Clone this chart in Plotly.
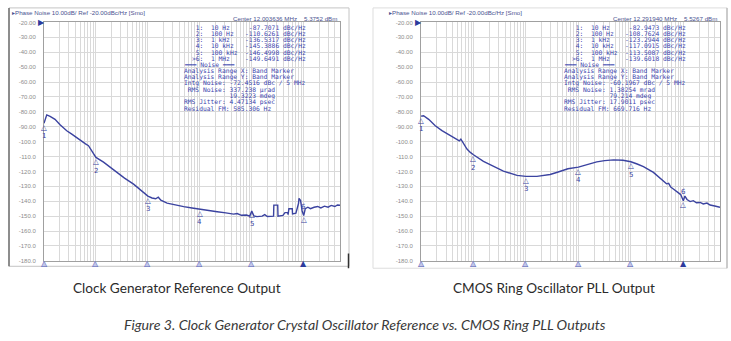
import math
import plotly.graph_objects as go

W, H = 731, 341

# ---------------- measured phase-noise traces (offset Hz, dBc/Hz) ----------------
ref_freq_hz = [10, 11.3, 13.1, 16.3, 20.4, 27.4, 34.3, 45.9, 57.4, 63, 71.8, 89.5, 100,
               140, 178, 253, 355, 530, 713, 871, 1000, 1202, 1413, 1585, 1778, 2339,
               3162, 4898, 7079, 10000, 14125, 21580, 31623, 44668, 52480, 63096, 79433,
               91201, 100000, 109648, 125893, 158489, 177828, 199526, 263027, 266073,
               316228, 319890, 398107, 436516, 489779, 501187, 518800, 602560, 609537,
               707946, 794328, 812831, 870964, 933254, 1000000, 1071519, 1202264,
               1348963, 1584893, 1862087, 2137962, 2511886, 2951209, 3388442, 3981072,
               4466836, 5000000]
ref_dbc = [-87.7, -82.0, -83.0, -85.0, -88.7, -92.7, -94.9, -98.2, -100.9, -101.5, -102.7,
           -107.5, -110.6, -113.7, -116.5, -120.4, -124.5, -128.5, -132.0, -134.5, -136.5,
           -137.8, -138.3, -137.3, -139.3, -141.2, -142.3, -143.6, -144.5, -145.4, -146.0,
           -147.0, -147.8, -148.6, -148.2, -149.4, -149.2, -150.0, -146.5, -149.8, -150.3,
           -150.0, -149.0, -150.2, -150.0, -142.6, -142.6, -150.0, -149.5, -147.6, -147.6,
           -149.0, -145.0, -145.0, -148.5, -148.0, -141.5, -138.0, -139.5, -146.5, -149.6,
           -145.0, -144.0, -145.0, -144.0, -143.5, -144.5, -143.3, -144.0, -142.8, -143.5,
           -142.5, -142.7]

pll_freq_hz = [10, 11.2, 14.0, 18.7, 25.1, 36.1, 49.9, 53.7, 57.5, 63.1, 75.2, 87.1, 100,
               155, 240, 372, 676, 1000, 1622, 2884, 3981, 6310, 10000, 15849, 22387,
               31623, 46774, 70795, 100000, 131826, 173780, 269153, 354813, 416869,
               478630, 524807, 575440, 645654, 794328, 891251, 1000000, 1071519, 1174898,
               1348963, 1548817, 1778279, 2089296, 2398833, 2818383, 3235937, 3981072,
               5000000]
pll_dbc = [-82.9, -82.6, -85.0, -89.3, -92.6, -95.9, -99.1, -99.5, -98.3, -100.8, -105.0,
           -107.2, -108.8, -113.2, -116.5, -119.8, -122.6, -123.3, -123.3, -122.0, -120.5,
           -118.2, -117.1, -115.0, -113.6, -112.7, -112.2, -112.5, -113.5, -115.0, -116.8,
           -120.6, -124.0, -126.5, -128.3, -128.0, -130.5, -131.8, -134.5, -135.5, -139.6,
           -136.5, -138.8, -140.2, -139.6, -141.0, -140.8, -141.8, -141.2, -142.5, -143.2,
           -144.0]

# ---------------- marker table ----------------
marker_freq_hz = [10, 100, 1e3, 1e4, 1e5, 1e6]
marker_names = ["1:", "2:", "3:", "4:", "5:", ">6:"]
marker_numbers = ["1", "2", "3", "4", "5", "6"]
marker_freq_text = ["10 Hz", "100 Hz", "1 kHz", "10 kHz", "100 kHz", "1 MHz"]
ref_marker_dbc = [-87.7071, -110.6261, -136.5317, -145.3886, -146.4998, -149.6491]
pll_marker_dbc = [-82.9473, -108.7624, -123.2944, -117.0915, -113.5087, -139.6018]

# carrier / integrated-noise readouts
ref_carrier = ["12.003636 MHz", "5.3752 dBm"]
pll_carrier = ["12.291940 MHz", "5.5267 dBm"]
ref_noise = ["-72.4516 dBc / 5 MHz", "337.238 µrad", "19.3223 mdeg", "4.47134 psec", "585.306 Hz"]
pll_noise = ["-60.1967 dBc / 5 MHz", "1.38254 mrad", "79.214 mdeg", "17.9011 psec", "669.716 Hz"]

y_tick_vals = list(range(-20, -190, -10))
y_tick_text = [f"{v:.2f}" if v > -100 else f"{v:.1f}" for v in y_tick_vals]

header_text = "Phase Noise 10.00dB/ Ref -20.00dBc/Hz [Smo]"
panel_titles = ["Clock Generator Reference Output", "CMOS Ring Oscillator PLL Output"]
figure_caption = "Figure 3. Clock Generator Crystal Oscillator Reference vs. CMOS Ring PLL Outputs"

# ---------------- layout geometry (pixels) ----------------
TRACE = "#3b43a0"
TXT = "#3a44ad"
GRID = "#d9d9d9"
PLOT_TOP, PLOT_BOT = 19.8, 262.5
PANELS = [
    dict(left=44, right=340, ax="x", ay="y", freq=ref_freq_hz, dbc=ref_dbc,
         mk=ref_marker_dbc, carrier=ref_carrier, noise=ref_noise, title_x=177),
    dict(left=421, right=720, ax="x2", ay="y2", freq=pll_freq_hz, dbc=pll_dbc,
         mk=pll_marker_dbc, carrier=pll_carrier, noise=pll_noise, title_x=554),
]


def px(x):
    return x / W


def py(y):
    return 1 - y / H


def nb(s):
    return s.replace(" ", "\u00a0")


fig = go.Figure()
annotations = []
shapes = []

for i, p in enumerate(PANELS):
    fig.add_trace(go.Scatter(
        x=p["freq"], y=p["dbc"], mode="lines", xaxis=p["ax"], yaxis=p["ay"],
        line=dict(color=TRACE, width=1.4), hoverinfo="skip", showlegend=False,
    ))
    xref, yref = p["ax"], p["ay"]

    # delta markers on the trace, with their numbers
    for k, (f, v) in enumerate(zip(marker_freq_hz, p["mk"])):
        lx = math.log10(f)
        annotations.append(dict(x=lx, y=v, xref=xref, yref=yref, text="△", showarrow=False,
                                borderpad=0,
                                font=dict(size=7.5, color=TRACE, family="DejaVu Sans"),
                                yshift=-4))
        annotations.append(dict(x=lx, y=v, xref=xref, yref=yref, text=marker_numbers[k],
                                showarrow=False, borderpad=0,
                                font=dict(size=7, color=TRACE, family="DejaVu Sans"),
                                yshift=(9 if k == 5 else -13)))
        # marker flags along the bottom edge
        annotations.append(dict(x=lx, y=-180, xref=xref, yref=yref, text="▲", showarrow=False,
                                font=dict(size=8, color=("#2c3a9c" if k == 5 else "#c3c7ea"),
                                          family="DejaVu Sans"), yshift=-3))
        if k != 5:
            annotations.append(dict(x=lx, y=-180, xref=xref, yref=yref, text="△",
                                    showarrow=False,
                                    font=dict(size=8, color="#5a62b4", family="DejaVu Sans"),
                                    yshift=-3))

    # reference level pointer
    annotations.append(dict(x=px(p["left"] - 3), y=py(PLOT_TOP), xref="paper", yref="paper",
                            text="▶", showarrow=False, xanchor="center", yanchor="middle",
                            font=dict(size=8, color="#2c3a9c", family="DejaVu Sans")))
    # header line
    annotations.append(dict(x=px(p["left"] - 34), y=py(9.3), xref="paper", yref="paper",
                            text="▸" + header_text, showarrow=False, xanchor="left",
                            yanchor="middle",
                            font=dict(size=6.2, color="#4a5290", family="Liberation Sans")))

    R = p["right"]
    mono = dict(size=6.3, color=TXT, family="DejaVu Sans Mono")
    row_y = [24.5 + 6.37 * j for j in range(14)]
    # carrier line
    annotations.append(dict(x=px(R - 108), y=py(16), xref="paper", yref="paper",
                            text=nb("Center " + p["carrier"][0]), showarrow=False,
                            xanchor="left", yanchor="middle", borderpad=0,
                            font=dict(size=6.2, color="#4a5290", family="Liberation Sans")))
    annotations.append(dict(x=px(R - 2), y=py(16), xref="paper", yref="paper",
                            text=nb(p["carrier"][1]), showarrow=False, borderpad=0,
                            xanchor="right", yanchor="middle",
                            font=dict(size=6.2, color="#4a5290", family="Liberation Sans")))
    lines = []
    for name, ft, v in zip(marker_names, marker_freq_text, p["mk"]):
        lines.append((R - 149, f"{name:>3}  {ft:<7}{v:>11.4f} dBc/Hz"))
    n = p["noise"]
    lines += [
        (R - 157, "━━━ Noise ━━━"),
        (R - 157, "Analysis Range X: Band Marker"),
        (R - 157, "Analysis Range Y: Band Marker"),
        (R - 157, "Intg Noise: " + n[0]),
        (R - 157, " RMS Noise: " + n[1]),
        (R - 157, "            " + n[2]),
        (R - 157, "RMS Jitter: " + n[3]),
        (R - 157, "Residual FM: " + n[4]),
    ]
    for (x0, s), yy in zip(lines, row_y):
        annotations.append(dict(x=px(x0), y=py(yy), xref="paper", yref="paper", text=nb(s),
                                showarrow=False, xanchor="left", yanchor="middle",
                                borderpad=0, font=mono))

    # panel captions
    annotations.append(dict(x=px(p["title_x"]), y=py(290),
                            xref="paper", yref="paper", text=panel_titles[i], showarrow=False,
                            xanchor="center", yanchor="middle",
                            font=dict(size=13.6, color="#2b2b2b", family="Lato")))

annotations.append(dict(x=px(365), y=py(327), xref="paper", yref="paper",
                        text=f"<i>{figure_caption}</i>", showarrow=False, xanchor="center",
                        yanchor="middle", font=dict(size=14.2, color="#3a3a3a", family="Lato")))

# instrument screen frames
shapes += [
    dict(type="rect", xref="paper", yref="paper", x0=px(9), x1=px(349), y0=py(268), y1=py(5),
         line=dict(color="#c4c4c4", width=1)),
    dict(type="line", xref="paper", yref="paper", x0=px(9), x1=px(9), y0=py(268), y1=py(5),
         line=dict(color="#707070", width=1.5)),
    dict(type="line", xref="paper", yref="paper", x0=px(348.5), x1=px(348.5), y0=py(270),
         y1=py(255), line=dict(color="#303030", width=1.5)),
    dict(type="rect", xref="paper", yref="paper", x0=px(373), x1=px(727), y0=py(270), y1=py(5),
         line=dict(color="#dddddd", width=1)),
    dict(type="line", xref="paper", yref="paper", x0=px(727), x1=px(727), y0=py(270), y1=py(5),
         line=dict(color="#a8a8a8", width=1)),
]

xa = dict(type="log", range=[1, math.log10(5e6)], dtick="D1", showticklabels=False,
          showgrid=True, gridcolor=GRID, gridwidth=1, showline=True, mirror=True,
          linecolor="#a0a0a0", linewidth=1, zeroline=False, ticks="")
ya = dict(range=[-180, -20], tickvals=y_tick_vals, ticktext=y_tick_text, showgrid=True,
          gridcolor=GRID, gridwidth=1, showline=True, mirror=True, linecolor="#a0a0a0",
          linewidth=1, zeroline=False, ticks="", ticklabelstandoff=6,
          tickfont=dict(size=6, color="#8c8c8c", family="Liberation Sans"))

fig.update_layout(
    width=W, height=H, margin=dict(l=0, r=0, t=0, b=0),
    paper_bgcolor="white", plot_bgcolor="white", showlegend=False,
    xaxis=dict(xa, domain=[px(PANELS[0]["left"]), px(PANELS[0]["right"])], anchor="y"),
    yaxis=dict(ya, domain=[py(PLOT_BOT), py(PLOT_TOP)], anchor="x"),
    xaxis2=dict(xa, domain=[px(PANELS[1]["left"]), px(PANELS[1]["right"])], anchor="y2"),
    yaxis2=dict(ya, domain=[py(PLOT_BOT), py(PLOT_TOP)], anchor="x2"),
    annotations=annotations, shapes=shapes,
)

fig.write_html("out.html")
